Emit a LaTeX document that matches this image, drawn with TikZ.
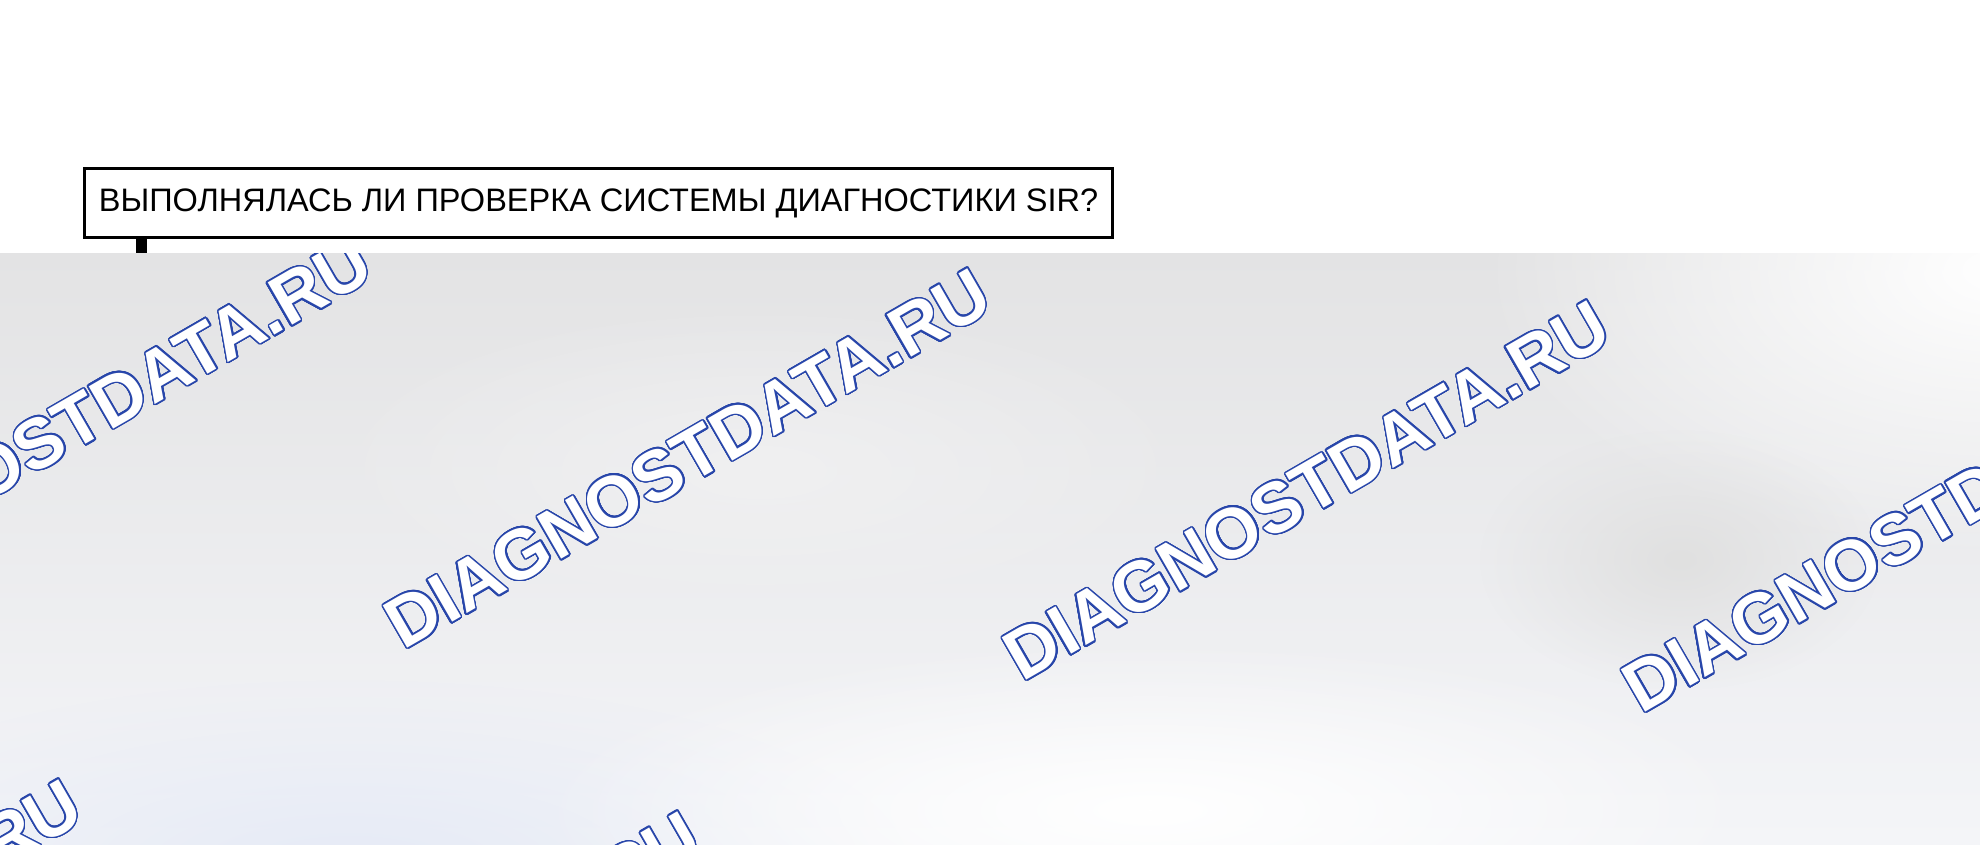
\documentclass[tikz,border=0pt]{standalone}
\usepackage{fontspec}
\setmainfont{Liberation Sans}
\usepackage{contour}
\usetikzlibrary{fadings}
\definecolor{wmblue}{RGB}{40,70,170}
\definecolor{bgtop}{RGB}{227,227,228}
\definecolor{bgbot}{RGB}{244,245,248}
\definecolor{bgblue}{RGB}{229,234,246}
\definecolor{bgmid}{RGB}{240,240,241}
\contourlength{1.5pt}
\contournumber{32}
\tikzfading[name=blobfade,inner color=transparent!0,outer color=transparent!100]
\tikzset{
	question/.style={draw,line width=3pt,minimum width=1028pt,minimum height=69pt,inner sep=0pt,font=\fontsize{32.5}{38}\selectfont},
	watermark/.style={rotate=30,text=white,inner sep=0pt,font=\bfseries\fontsize{71}{71}\selectfont}
}
\newcommand{\wmtext}{\contour{wmblue}{DIAGNOSTDATA.RU}}
\begin{document}
\begin{tikzpicture}[x=1pt,y=-1pt]
		\useasboundingbox (0,0) rectangle (1980,844);
		\node[question] (q) at (598.5,203) {ВЫПОЛНЯЛАСЬ ЛИ ПРОВЕРКА СИСТЕМЫ ДИАГНОСТИКИ SIR?};
		\coordinate (cut) at (141,253);
		\draw[line width=11pt] (q.south -| cut) -- (cut);
		\begin{scope}
			\clip (0,253) rectangle (1980,844);
			\shade[top color=bgtop,bottom color=bgbot] (0,253) rectangle (1980,844);
			\fill[bgblue,path fading=blobfade] (350,870) ellipse (560 and 190);
			\fill[white,path fading=blobfade] (2000,270) ellipse (520 and 290);
			\fill[white,path fading=blobfade] (1150,810) ellipse (620 and 170);
			\fill[bgmid,path fading=blobfade] (760,470) ellipse (460 and 170);
			\fill[black!12,path fading=blobfade] (1680,560) ellipse (200 and 130);
			\foreach \i in {0,...,3} \node[watermark] (wm\i) at (69+619*\i,427+32*\i) {\wmtext};
			\foreach \i in {0,1} \node[watermark] (wmb\i) at (-221+619*\i,970+32*\i) {\wmtext};
		\end{scope}
	\end{tikzpicture}
\end{document}
